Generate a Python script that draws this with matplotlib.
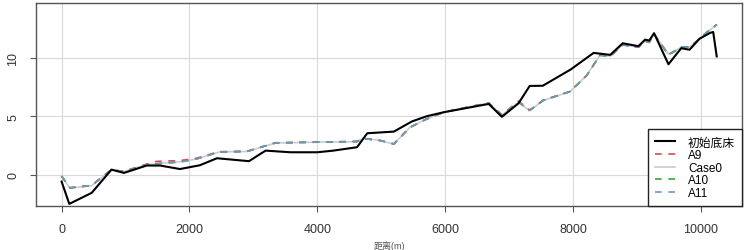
import numpy as np
import matplotlib
matplotlib.use("Agg")
import matplotlib.pyplot as plt

plt.rcParams['font.family'] = ['Liberation Sans', 'Noto Sans CJK SC', 'DejaVu Sans']

# initial bed profile (black)
x_bed = [0, 120, 470, 780, 975, 1330, 1540, 1850, 2160, 2430, 2930, 3190, 3580,
         4000, 4250, 4620, 4780, 5195, 5480, 5710, 5975, 6680, 6885, 7145, 7320,
         7525, 7960, 8320, 8580, 8775, 9020, 9125, 9190, 9265, 9490, 9690, 9820,
         9975, 10140, 10190, 10245]
y_bed = [-0.57, -2.47, -1.53, 0.45, 0.17, 0.8, 0.8, 0.5, 0.82, 1.42, 1.17, 2.07, 1.93,
         1.93, 2.07, 2.36, 3.55, 3.69, 4.56, 5.0, 5.34, 6.05, 4.95, 6.1, 7.58,
         7.6, 8.98, 10.4, 10.23, 11.22, 10.97, 11.53, 11.45, 12.08, 9.43, 10.8, 10.67,
         11.6, 12.1, 12.18, 10.1]

# simulated cases
x_sim = [0, 130, 470, 780, 965, 1330, 1485, 1850, 2110, 2460, 2900, 3345, 4000,
         4620, 4720, 4985, 5195, 5450, 5710, 5975, 6390, 6680, 6885, 7145, 7320,
         7535, 7950, 8210, 8420, 8580, 8775, 9020, 9125, 9190, 9265, 9490, 9700,
         9830, 9985, 10090, 10245]
a9 = [-0.1, -1.1, -0.9, 0.45, 0.3, 0.92, 1.15, 1.22, 1.42, 1.98, 2.02, 2.74, 2.8,
      2.86, 3.1, 2.93, 2.64, 4.05, 4.76, 5.34, 5.82, 6.12, 5.12, 6.3, 5.52,
      6.38, 7.1, 8.47, 10.2, 10.12, 11.08, 10.88, 11.4, 11.3, 12.0, 10.25, 10.9,
      10.92, 11.65, 12.15, 12.8]
case0 = [-0.12, -1.12, -0.92, 0.44, 0.28, 0.86, 0.96, 1.12, 1.36, 1.95, 2.0, 2.72, 2.79,
         2.83, 3.12, 2.93, 2.62, 4.07, 4.78, 5.34, 5.82, 6.12, 5.1, 6.2, 5.48,
         6.35, 7.1, 8.47, 10.22, 10.12, 11.1, 10.9, 11.42, 11.32, 12.02, 10.3, 10.9,
         10.92, 11.66, 12.15, 12.8]
a10 = [-0.1, -1.1, -0.9, 0.45, 0.28, 0.85, 0.95, 1.1, 1.36, 1.95, 2.0, 2.73, 2.79,
       2.84, 3.1, 2.93, 2.64, 4.06, 4.77, 5.34, 5.82, 6.12, 5.11, 6.2, 5.5,
       6.36, 7.1, 8.47, 10.2, 10.12, 11.08, 10.88, 11.4, 11.3, 12.0, 10.23, 10.9,
       10.9, 11.65, 12.15, 12.8]
a11 = [-0.1, -1.1, -0.9, 0.45, 0.28, 0.85, 0.95, 1.1, 1.36, 1.95, 2.0, 2.73, 2.79,
       2.84, 3.1, 2.93, 2.64, 4.06, 4.77, 5.34, 5.82, 6.12, 5.11, 6.2, 5.5,
       6.36, 7.1, 8.47, 10.2, 10.12, 11.08, 10.88, 11.4, 11.3, 12.0, 10.23, 10.9,
       10.9, 11.65, 12.15, 12.8]

x_ticks = [0, 2000, 4000, 6000, 8000, 10000]
y_ticks = [0, 5, 10]

fig = plt.figure(figsize=(7.46, 2.51), dpi=100)
ax = fig.add_axes([0.0483, 0.1753, 0.9463, 0.8087])

ax.grid(True, color='#d9d9d9', lw=0.8)
ax.set_axisbelow(True)

dash = (0, (4, 4))
ax.plot(x_bed, y_bed, color='black', lw=1.5, label='初始底床', zorder=5)
ax.plot(x_sim, a9, color='#e0454f', lw=1.2, ls=dash, label='A9', zorder=3)
ax.plot(x_sim, case0, color='#cccccc', lw=1.2, label='Case0', zorder=2)
ax.plot(x_sim, a10, color='#3aa63a', lw=1.2, ls=dash, label='A10', zorder=3)
ax.plot(x_sim, a11, color='#6f95c2', lw=1.2, ls=dash, label='A11', zorder=4)

ax.set_xlim(-400, 10640)
ax.set_ylim(-2.65, 14.65)
ax.set_xticks(x_ticks)
ax.set_yticks(y_ticks)
ax.set_yticklabels([str(v) for v in y_ticks], rotation=90, va='center')
ax.tick_params(axis='both', length=4, width=0.8, color='#555555',
               labelsize=9, labelcolor='#333333', pad=8)

for s in ax.spines.values():
    s.set_color('#555555')
    s.set_linewidth(1.0)

# x-axis title sits at the very bottom edge, as in the reference
fig.text(0.522, 0.0, '距离(m)', fontsize=6.5, color='#555555',
         ha='center', va='bottom')

leg = ax.legend(loc='lower right', borderaxespad=0, fancybox=False,
                framealpha=1, edgecolor='#222222', fontsize=8.5,
                handlelength=1.7, labelspacing=0.05, borderpad=0.6,
                handletextpad=1.1)
leg.get_frame().set_linewidth(1.0)

fig.savefig('out.png', dpi=100)
